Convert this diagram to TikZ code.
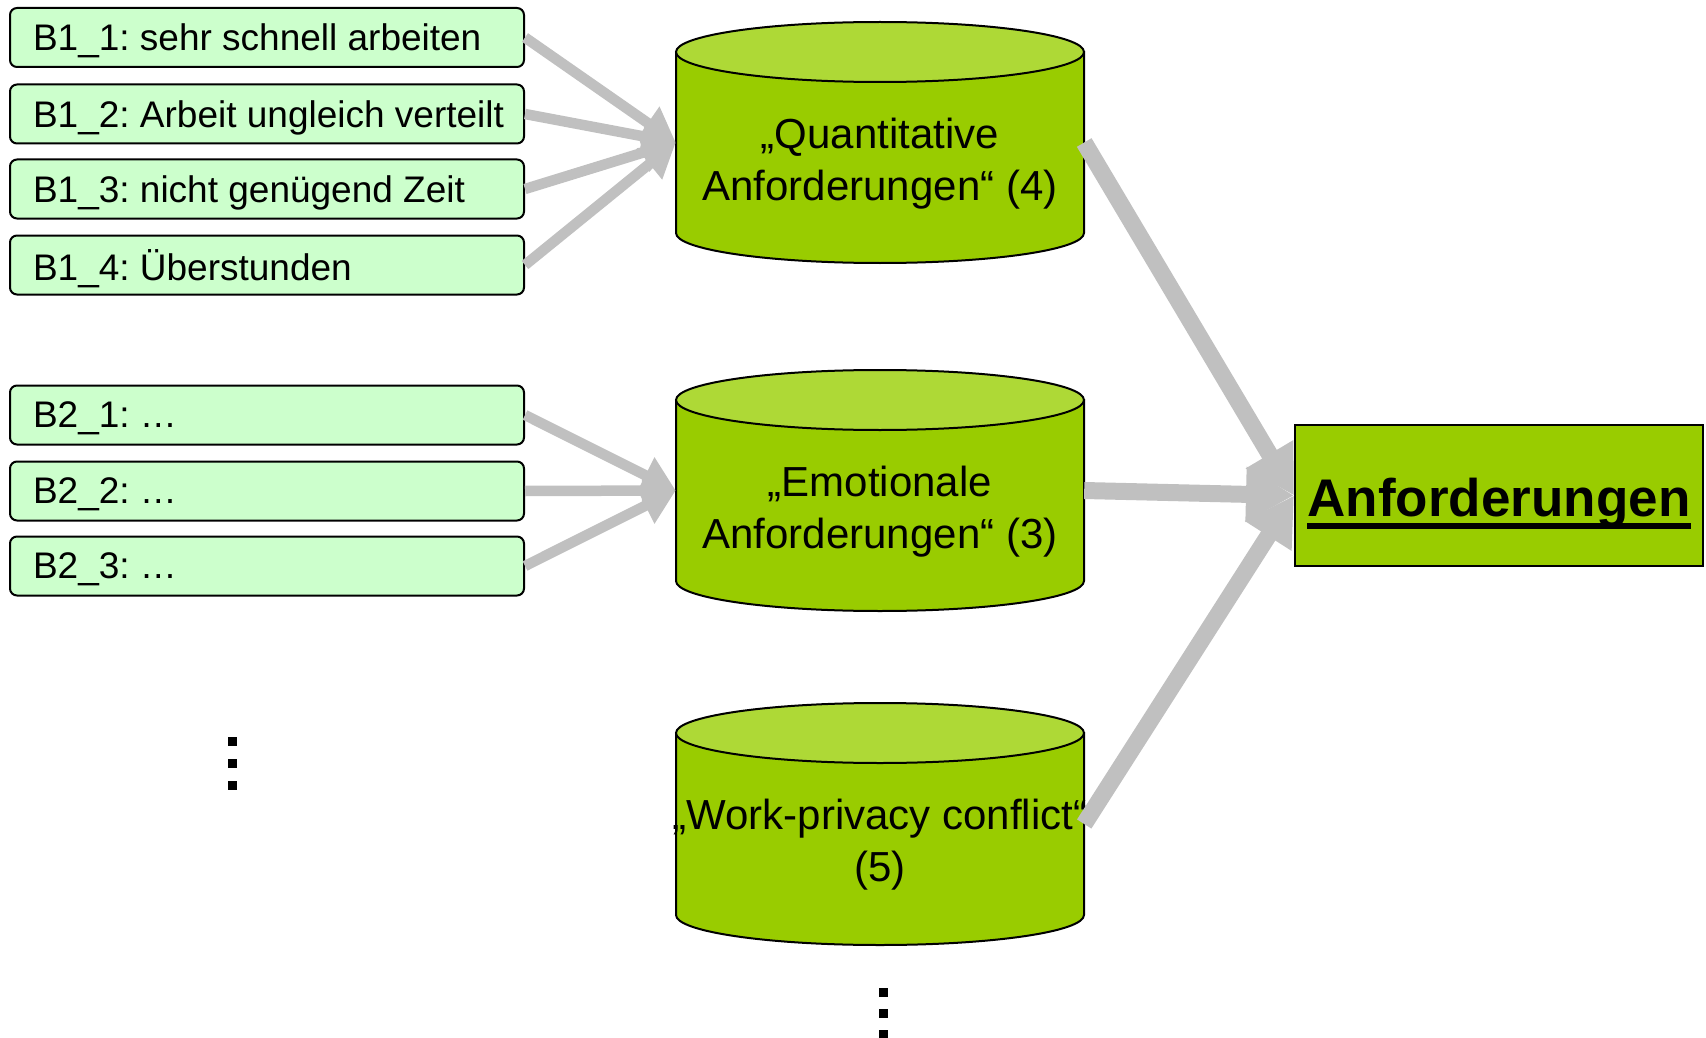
\documentclass[tikz,border=0pt]{standalone}
\usepackage{fontspec}
\setmainfont{Liberation Sans}
\usetikzlibrary{arrows.meta}
\definecolor{boxgreen}{HTML}{CCFFCC}
\definecolor{cylgreen}{HTML}{99CC00}
\definecolor{cyltop}{HTML}{AED936}
\definecolor{arrowgray}{HTML}{C0C0C0}
\frenchspacing
\newcommand{\drawcyl}[3]{% cx, top center y, bottom center y
  \path[draw=black, line width=2pt, fill=cylgreen]
    (#1-204,#2) -- (#1-204,#3) arc[start angle=180, end angle=360, x radius=204pt, y radius=30pt]
    -- (#1+204,#2) -- cycle;
  \path[draw=black, line width=2pt, fill=cyltop] (#1,#2) ellipse [x radius=204pt, y radius=30pt];
}
\newcommand{\itm}[1]{\makebox[468pt][l]{#1}}
\begin{document}
\begin{tikzpicture}[x=1pt,y=-1pt,
  itembox/.style={draw=black, line width=2pt, fill=boxgreen, rounded corners=7pt,
    minimum width=514pt, minimum height=59pt, inner ysep=0pt, inner xsep=23pt,
    text depth=0pt, font=\fontsize{37}{44}\selectfont},
  cylbody/.style={minimum width=408pt, minimum height=181pt, inner sep=0pt},
  cyltext/.style={align=center, inner sep=0pt, font=\fontsize{42}{52}\selectfont},
  smallarrow/.style={draw=arrowgray, line width=10.5pt, -{Triangle[length=34pt, width=38pt]}},
  bigarrow/.style={draw=arrowgray, line width=17pt, -{Triangle[length=48pt, width=52pt]}},
  dotsq/.style={fill=black}
]
\useasboundingbox (0,0) rectangle (1706,1038);
\clip (0,0) rectangle (1706,1038);

% input boxes
\node[itembox] (b11) at (267,37.5) {\itm{B1\_1: sehr schnell arbeiten}};
\node[itembox] (b12) at (267,114) {\itm{B1\_2: Arbeit ungleich verteilt}};
\node[itembox] (b13) at (267,189) {\itm{B1\_3: nicht genügend Zeit}};
\node[itembox] (b14) at (267,265) {\itm{B1\_4: Überstunden}};
\node[itembox] (b21) at (267,415) {\itm{B2\_1: …}};
\node[itembox] (b22) at (267,491) {\itm{B2\_2: …}};
\node[itembox] (b23) at (267,566) {\itm{B2\_3: …}};

% cylinders
\drawcyl{880}{52}{233}
\node[cylbody] (q) at (880,142.5) {};
\node[cyltext] (qt) at (880,163.5) {„Quantitative\\Anforderungen“ (4)};

\drawcyl{880}{400}{581}
\node[cylbody] (e) at (880,490.5) {};
\node[cyltext] (et) at (880,511.5) {„Emotionale\\Anforderungen“ (3)};

\drawcyl{880}{733}{915}
\node[cylbody] (w) at (880,824) {};
\node[cyltext] (wt) at (880,844.5) {„Work-privacy conflict“\\(5)};

% target box
\node[draw=black, line width=2pt, fill=cylgreen, minimum width=408pt, minimum height=141pt, inner sep=0pt] (anf) at (1499,495.5) {};
\node[anchor=base, inner sep=0pt, font=\fontsize{53}{60}\selectfont\bfseries] (anft) at (1499,516.5) {Anforderungen};
\draw[line width=6pt] ([yshift=-9pt]anft.base west) -- ([yshift=-9pt]anft.base east);

% arrows
\draw[smallarrow] (b11.east) -- (q.west);
\draw[smallarrow] (b12.east) -- (q.west);
\draw[smallarrow] (b13.east) -- (q.west);
\draw[smallarrow] (b14.east) -- (q.west);
\draw[smallarrow] (b21.east) -- (e.west);
\draw[smallarrow] (b22.east) -- (e.west);
\draw[smallarrow] (b23.east) -- (e.west);
\draw[bigarrow] (q.east) -- (anf.west);
\draw[bigarrow] (e.east) -- (anf.west);
\draw[bigarrow] (w.east) -- (anf.west);

% continuation dots
\fill[dotsq] (228,737) rectangle ++(9,9);
\fill[dotsq] (228,759) rectangle ++(9,9);
\fill[dotsq] (228,781) rectangle ++(9,9);
\fill[dotsq] (879,988) rectangle ++(8.5,8.5);
\fill[dotsq] (879,1009) rectangle ++(8.5,8.5);
\fill[dotsq] (879,1030) rectangle ++(8.5,8.5);
\end{tikzpicture}
\end{document}
